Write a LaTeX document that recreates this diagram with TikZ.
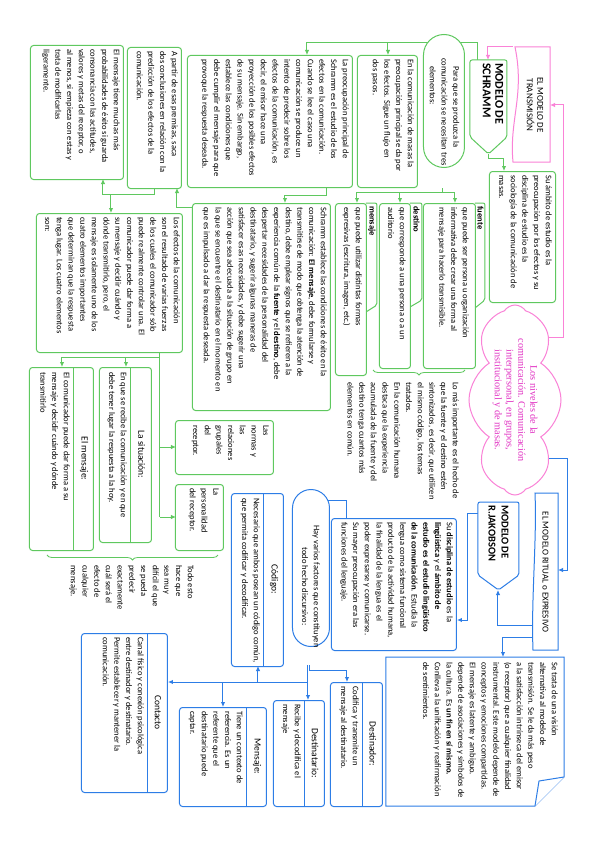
\documentclass[tikz,border=0pt]{standalone}
\usepackage{fontspec}
\setmainfont{Carlito}
\newfontfamily\cloudfont{Liberation Serif}
\usetikzlibrary{shapes.symbols,shapes.misc,arrows.meta,decorations.pathreplacing,backgrounds}
\definecolor{gcol}{RGB}{95,200,95}
\definecolor{bcol}{RGB}{45,125,230}
\definecolor{pcol}{RGB}{250,130,215}
\definecolor{ptext}{RGB}{225,50,195}
\newcommand\tf{\fontsize{8.5}{11.7}\selectfont}
\newcommand\hf{\fontsize{9.5}{11}\selectfont}
\begin{document}
\begin{tikzpicture}[x=1pt,y=-1pt,
  gbox/.style={draw=gcol,line width=1pt,rounded corners=3pt,fill=white,inner sep=0pt,anchor=north west},
  bbox/.style={draw=bcol,line width=1pt,rounded corners=3pt,fill=white,inner sep=0pt,anchor=north west},
  txt/.style={inner sep=0pt,anchor=north west,align=left,font=\tf},
  hlab/.style={inner sep=0pt,font=\hf},
  tablab/.style={inner sep=0pt,anchor=west,font=\tf\bfseries},
  gln/.style={draw=gcol,line width=1pt},
  garr/.style={gln,-{Latex[length=5pt,width=4.5pt]}},
  bln/.style={draw=bcol,line width=1pt},
  barr/.style={bln,-{Latex[length=5pt,width=4.5pt]}},
  parr/.style={draw=pcol,line width=1pt,-{Latex[length=5pt,width=4.5pt]}},
  gbrace/.style={draw=gcol,line width=0.8pt,decorate,decoration={brace,amplitude=5pt}}
]
\begin{scope}[rotate=-90,every node/.append style={transform shape}]
\useasboundingbox (0,0) rectangle (848,599);

% ---------------- GREEN / PINK PART ----------------
\draw[pcol,line width=1pt,fill=white] (47,49) -- (162,49) -- (162,86) .. controls (120,90) and (95,74) .. (47,84) -- cycle;
\node[inner sep=0pt,align=center,font=\fontsize{9}{10.5}\selectfont] (trans) at (105,64) {EL MODELO DE\\TRANSMISIÓN};

\draw[gcol,line width=1pt,fill=white,rounded corners=2pt] (60,92) -- (137,92) -- (154,110.5) -- (137,129) -- (60,129) -- cycle;
\node[inner sep=0pt,anchor=west,align=left,font=\fontsize{12}{12.5}\selectfont\bfseries] (schramm) at (63,106) {MODELO DE\\SCHRAMM};

\node[gbox,minimum width=131,minimum height=66] (a1) at (171,43) {};
\node[txt] (a1t) at (175,47) {Su ámbito de estudio es la\\preocupación por los efectos y su\\disciplina de estudio es la\\sociología de la comunicación de\\masas.};

\node[rounded rectangle,draw=gcol,line width=1pt,fill=white,minimum width=133,minimum height=41,inner sep=0pt,anchor=north west] (b1) at (55,134) {};
\node[txt,anchor=west] (b1t) at (58,154.5) {\hspace*{8pt}Para que se produzca la\\comunicación se necesitan tres\\\hspace*{8pt}elementos:};

\node[gbox,minimum width=132,minimum height=60] (b2) at (55,181) {};
\node[txt] (b2t) at (59,185) {En la comunicación de masas la\\preocupación principal se da por\\los efectos. Sigue un flujo en\\dos pasos.};

\node[gbox,minimum width=132,minimum height=165] (b3) at (55,246) {};
\node[txt] (b3t) at (59,250) {La preocupación principal de\\Schramm es el estudio de los\\efectos en la comunicación.\\Cuando se lee el caso una\\comunicación se produce un\\intento de predecir sobre los\\efectos de la comunicación, es\\decir, el emisor hace una\\proyección de los posibles efectos\\de su mensaje. Sin embargo,\\establece las condiciones que\\debe cumplir el mensaje para que\\provoque la respuesta deseada.};

\node[gbox,minimum width=141,minimum height=54] (b4) at (47,417) {};
\node[txt] (b4t) at (51,421) {A partir de esas premisas, saca\\dos conclusiones en relación con la\\predicción de los efectos de la\\comunicación.};

\node[gbox,minimum width=134,minimum height=93] (b5) at (45,475) {};
\node[txt] (b5t) at (49,479) {El mensaje tiene muchas más\\probabilidades de éxito si guarda\\consonancia con las actitudes,\\valores y metas del receptor, o\\al menos, si empieza con estas y\\trata de modificarlas\\ligeramente.};

\node[gbox,minimum width=207,minimum height=138] (b6) at (203,268) {};
\node[txt] (b6t) at (207,272) {Schramm establece las condiciones de éxito en la\\comunicación: \textbf{El mensaje}, debe formularse y\\transmitirse de modo que obtenga la atención de\\destino, debe emplear signos que se refieren a la\\experiencia común de la \textbf{fuente} y el \textbf{destino}, debe\\despertar necesidades de la personalidad del\\destinatario, y sugerir algunas maneras de\\satisfacer esas necesidades, y debe sugerir una\\acción que sea adecuada a la situación de grupo en\\la que se encuentre el destinatario en el momento en\\que es impulsado a dar la respuesta deseada.};

\node[gbox,minimum width=139,minimum height=146] (b7) at (213,416) {};
\node[txt] (b7t) at (217,419) {Los efectos de la comunicación\\son el resultado de varias fuerzas\\de los cuales el comunicador sólo\\puede realmente controlar una. El\\comunicador puede dar forma a\\su mensaje y decidir cuándo y\\dónde transmitirlo, pero, el\\mensaje es solamente uno de los\\cuatro elementos importantes\\que determinan que la respuesta\\tenga lugar. Los cuatro elementos\\son:};

% element boxes with tabs
\draw[gcol,line width=1pt,fill=white,rounded corners=2pt] (203,124) -- (203,114) -- (300,114) -- (308,124);
\node[gbox,minimum width=165,minimum height=52] (e1) at (203,123) {};
\node[tablab] (e1l) at (206,118.5) {fuente};
\node[txt] (e1t) at (207,130) {que puede ser persona u organización\\informativa debe crear una forma al\\mensaje para hacerlo transmisible.};

\draw[gcol,line width=1pt,fill=white,rounded corners=2pt] (203,189) -- (203,177) -- (300,177) -- (307,189);
\node[gbox,minimum width=165,minimum height=31] (e2) at (203,188) {};
\node[tablab] (e2l) at (206,182.5) {destino};
\node[txt] (e2t) at (207,193) {que corresponde a una persona o a un\\auditorio};

\draw[gcol,line width=1pt,fill=white,rounded corners=2pt] (203,233) -- (203,222) -- (305,222) -- (312,233);
\node[gbox,minimum width=172,minimum height=31] (e3) at (203,232) {};
\node[tablab] (e3l) at (206,227) {mensaje};
\node[txt] (e3t) at (207,237) {que puede utilizar distintas formas\\expresivas (escritura, imagen, etc.)};

\coordinate (br1a) at (370,134);
\coordinate (br1b) at (370,226);
\node[txt] (t1) at (382,140) {Lo más importante es el hecho de\\que la fuente y el destino estén\\sintonizados, es decir, que utilicen\\el mismo código, los temas\\tratados.\\En la comunicación humana\\destaca que la experiencia\\acumulada de la fuente y del\\destino tenga cuantos más\\elementos en común.};

\node[gbox,minimum width=183,minimum height=64] (g1) at (367,505) {};
\draw[gln] (367,525) -- (550,525);
\node[hlab] (g1l) at (458.5,515) {El mensaje:};
\node[txt] (g1t) at (372,529) {El comunicador puede dar forma a su\\mensaje y decidir cuándo y dónde\\transmitirlo};

\node[gbox,minimum width=175,minimum height=52] (g2) at (367,447) {};
\draw[gln] (367,468) -- (542,468);
\node[hlab] (g2l) at (454.5,457.5) {La situación:};
\node[txt] (g2t) at (372,472) {En que se recibe la comunicación y en que\\debe tener lugar la respuesta a la hoy.};

\node[gbox,minimum width=54,minimum height=98] (g3) at (420,325) {};
\node[txt] (g3t) at (425,330) {Las\\normas y\\las\\relaciones\\grupales\\del\\receptor.};

\node[gbox,minimum width=66,minimum height=48] (g4) at (484,375) {};
\node[txt] (g4t) at (488,380) {La\\personalidad\\del receptor.};

\coordinate (br2a) at (555,381);
\coordinate (br2b) at (555,552);
\node[txt] (t2) at (565,405) {Todo esto\\hace que\\sea muy\\difícil el que\\se pueda\\predecir\\exactamente\\cuál será el\\efecto de\\cualquier\\mensaje.};

% ---------------- BLUE PART ----------------
\node[cloud,cloud puffs=8,cloud puff arc=115,aspect=2.1,draw=pcol,fill=white,line width=1pt,minimum width=190,minimum height=92,inner sep=0pt] (cloud) at (400,84) {};
\node[inner sep=0pt,align=center,text=ptext,font=\cloudfont\fontsize{10.2}{11.8}\selectfont] (cloudt) at (400,84) {Los niveles de la\\comunicación. Comunicación\\interpersonal, en grupos,\\institucional y de masas.};

\draw[bcol,line width=1pt,fill=white] (493,41) -- (650,41) -- (650,66) .. controls (600,68) and (540,62) .. (493,64) -- cycle;
\node[inner sep=0pt,font=\fontsize{9}{10}\selectfont] (ritual) at (572,53.5) {EL MODELO RITUAL o EXPRESIVO};

\draw[bcol,line width=1pt,fill=white,rounded corners=2pt] (502,80) -- (575,80) -- (590,100.5) -- (575,121) -- (502,121) -- cycle;
\node[inner sep=0pt,anchor=west,align=left,font=\fontsize{10.5}{13}\selectfont\bfseries] (jak) at (505,100.5) {MODELO DE\\R.JAKOBSON};

\draw[bcol,line width=1pt,fill=white] (657,35) -- (777,35) -- (806,64) -- (806,213) -- (657,213) -- cycle;
\draw[bcol,line width=1pt,fill=white] (777,35) -- (781,60) -- (806,64);
\node[txt] (n1t) at (662,41) {Se trata de una visión\\alternativa al modelo de\\transmisión. Se le da más peso\\a la satisfacción intrínseca del emisor\\(o receptor) que a cualquier finalidad\\instrumental. Este modelo depende de\\conceptos y emociones compartidas.\\El mensaje es latente y ambiguo.\\depende de asociaciones y símbolos de\\la cultura. Es \textbf{un fin en sí mismo.}\\Conlleva a la unificación y reafirmación\\de sentimientos.};

\node[bbox,minimum width=132,minimum height=125] (d1) at (518,142) {};
\node[txt] (d1t) at (522,146) {Su \textbf{disciplina de estudio} es la\\\textbf{lingüística} y el \textbf{ámbito de}\\\textbf{estudio es el estudio lingüístico}\\\textbf{de la comunicación}. Estudia la\\lengua como sistema funcional\\producto de la actividad humana,\\la finalidad de la lengua es el\\poder expresarse y comunicarse.\\Su mayor preocupación era las\\funciones del lenguaje.};

\node[rounded rectangle,draw=bcol,line width=1pt,fill=white,minimum width=157,minimum height=37,inner sep=0pt,anchor=north west] (h1) at (508,269) {};
\node[inner sep=0pt,align=center,font=\tf] (h1t) at (586.5,288) {Hay varios factores que constituyen\\todo hecho discursivo:};

\node[bbox,minimum width=173,minimum height=52] (k1) at (493,315) {};
\draw[bln] (493,335) -- (666,335);
\node[hlab] (k1l) at (579.5,325) {Código:};
\node[txt] (k1t) at (498,339) {Necesario que ambos posean un código común,\\que permita codificar y decodificar.};

\node[bbox,minimum width=99,minimum height=87] (m1) at (707,332) {};
\draw[bln] (707,352) -- (806,352);
\node[hlab] (m1l) at (756.5,342) {Mensaje:};
\node[txt] (m1t) at (711,356) {Tiene un contexto de\\referencia. Es un\\referente que el\\destinatario puede\\captar.};

\node[bbox,minimum width=106,minimum height=51] (dt) at (700,274) {};
\draw[bln] (700,294) -- (806,294);
\node[hlab] (dtl) at (753,284) {Destinatario:};
\node[txt] (dtt) at (704,298) {Recibe y decodifica el\\mensaje};

\node[bbox,minimum width=124,minimum height=52] (dr) at (682,216) {};
\draw[bln] (682,236) -- (806,236);
\node[hlab] (drl) at (744,226) {Destinador:};
\node[txt] (drt) at (686,240) {Codifica y transmite un\\mensaje al destinatario.};

\node[bbox,minimum width=159,minimum height=86] (ct) at (633,431) {};
\draw[bln] (633,451) -- (792,451);
\node[hlab] (ctl) at (712.5,441) {Contacto};
\node[txt] (ctt) at (637,455) {Canal físico y conexión psicológica\\entre destinador y destinatario.\\Permite establecer y mantener la\\comunicación.};

% ---------------- CONNECTORS (behind) ----------------
\begin{scope}[on background layer]
\fill[white] (0,0) rectangle (848,599);
\draw[gbrace] (br1a) -- (br1b);
\draw[gbrace] (br2a) -- (br2b);
% pink
\draw[parr] (47,86) -- (47,111) -- (60,111);
\draw[parr] (337,60) -- (337,36) -- (105,36) -- (105,49);
% green
\draw[garr] (60,121) -- (43,121) -- (43,292) -- (55,292);
\draw[garr] (43,155) -- (55,155);
\draw[garr] (43,211) -- (55,211);
\draw[gln] (43,167) -- (56,167);
\draw[garr] (154,110.5) -- (158,110.5) -- (158,95) -- (171,95);
\draw[gln] (188,156) -- (192,156);
\draw[gln] (192,144) -- (192,242);
\draw[garr] (192,144) -- (203,144);
\draw[garr] (192,199) -- (203,199);
\draw[garr] (192,242) -- (203,242);
\draw[garr] (187,272) -- (195,272) -- (195,314) -- (203,314);
\draw[garr] (207,406) -- (207,422) -- (188,422);
\draw[garr] (188,444) -- (194,444) -- (194,496) -- (179,496);
\draw[garr] (194,488) -- (213,488);
\draw[gln] (352,439) -- (357,439) -- (357,537);
\draw[garr] (357,537) -- (367,537);
\draw[garr] (357,473) -- (367,473);
\draw[gln] (357,439) -- (517,439);
\draw[garr] (447,439) -- (447,423);
\draw[garr] (517,439) -- (517,423);
% blue
\draw[barr] (458,56) -- (458,32) -- (570,32) -- (570,41);
\draw[barr] (625,66) -- (625,101) -- (590,101);
\draw[barr] (637,66) -- (637,96) -- (657,96);
\draw[barr] (513,121) -- (513,131) -- (620,131) -- (620,142);
\draw[bln] (518,252) -- (500,252) -- (500,289) -- (508,289);
\draw[barr] (665,289) -- (670,289) -- (670,252) -- (682,252);
\draw[barr] (665,291) -- (700,291);
\draw[barr] (682,291) -- (682,431);
\draw[barr] (682,341) -- (666,341);
\draw[barr] (682,376) -- (707,376);
\end{scope}
\end{scope}
\end{tikzpicture}
\end{document}
